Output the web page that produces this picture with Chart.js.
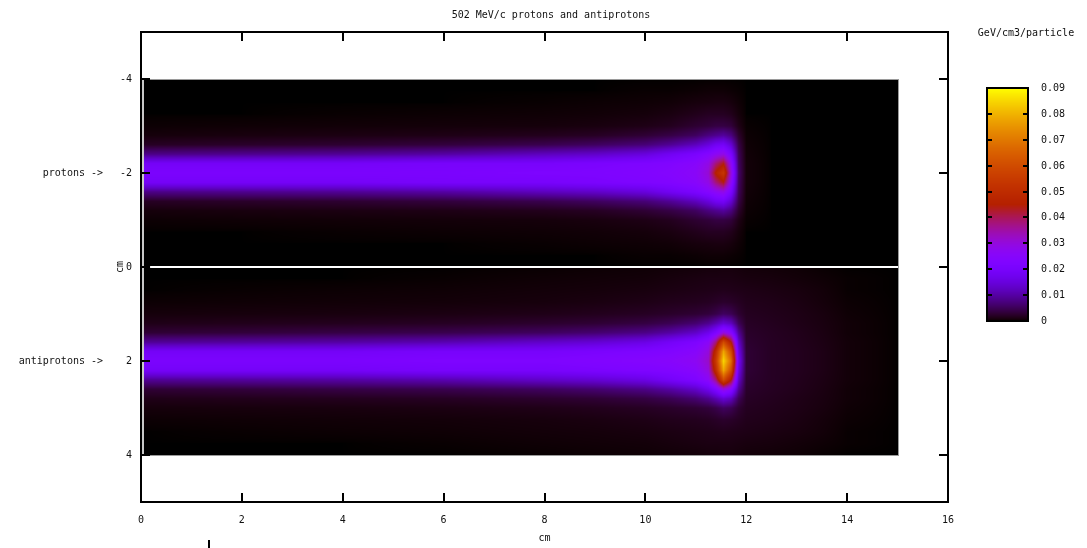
<!DOCTYPE html>
<html>
<head>
<meta charset="utf-8">
<script src="https://cdn.jsdelivr.net/npm/chart.js@4/dist/chart.umd.min.js"></script>
<style>
  body { margin: 0; background: #fff; }
  #wrap { width: 1087px; height: 548px; }
</style>
</head>
<body>
<div id="wrap"><canvas id="doseChart" width="1087" height="548"></canvas></div>
<script>
// depth nodes (cm) and lateral offsets from each beam axis (cm)
const xNodes = [0, 2, 4, 6, 8, 9, 10, 10.5, 11, 11.25, 11.4, 11.55, 11.7, 11.85, 12, 12.5, 13, 13.5, 14, 15];
const dyNodes = [0, 0.2, 0.4, 0.6, 0.8, 1.0, 1.25, 1.5, 1.75, 2.0];
const protonAxis = -2;
const antiprotonAxis = 2;

// GeV/cm3/particle, one row per lateral offset
const protonDose = [
  [.021, .021, .021, .021, .022, .022, .023, .024, .026, .031, .046, .054, .030, .006, .0005, 0, 0, 0, 0, 0],
  [.019, .019, .019, .020, .020, .021, .022, .023, .025, .029, .038, .044, .027, .0055, .0005, 0, 0, 0, 0, 0],
  [.008, .0085, .009, .010, .012, .013, .015, .018, .021, .024, .027, .029, .021, .005, .0004, 0, 0, 0, 0, 0],
  [.002, .0024, .0028, .0035, .0045, .0055, .007, .009, .012, .015, .018, .019, .014, .004, .0003, 0, 0, 0, 0, 0],
  [.0006, .0008, .001, .0012, .0016, .002, .003, .004, .0055, .0075, .0085, .0095, .0075, .0025, .0002, 0, 0, 0, 0, 0],
  [.0002, .0003, .0004, .0005, .0006, .0008, .0012, .0017, .0028, .0033, .0038, .0038, .0033, .0012, .0001, 0, 0, 0, 0, 0],
  [0, 0, .0001, .0002, .0003, .0004, .0006, .0009, .0015, .0019, .0019, .0019, .0015, .0006, 0, 0, 0, 0, 0, 0],
  [0, 0, 0, 0, .0001, .0002, .0003, .0004, .0007, .0008, .0009, .0009, .0007, .0003, 0, 0, 0, 0, 0, 0],
  [0, 0, 0, 0, 0, 0, .0001, .0001, .0002, .0003, .0003, .0003, .0002, .0001, 0, 0, 0, 0, 0, 0],
  [0, 0, 0, 0, 0, 0, 0, 0, 0, 0, 0, 0, 0, 0, 0, 0, 0, 0, 0, 0]
];
const antiprotonDose = [
  [.021, .021, .021, .022, .022, .023, .024, .025, .027, .032, .055, .085, .068, .018, .003, .002, .0017, .0012, .0005, 0],
  [.019, .019, .019, .020, .020, .021, .022, .023, .025, .030, .050, .078, .060, .016, .003, .002, .0017, .0012, .0005, 0],
  [.009, .0095, .010, .011, .013, .014, .016, .019, .022, .026, .038, .060, .045, .013, .0027, .002, .0016, .0011, .0005, 0],
  [.003, .0034, .004, .0045, .0055, .0065, .008, .010, .013, .017, .022, .030, .025, .009, .0024, .0019, .0015, .001, .0004, 0],
  [.0013, .0015, .0017, .002, .0026, .003, .0038, .0048, .0065, .0085, .011, .014, .012, .005, .0021, .0017, .0013, .0009, .0004, 0],
  [.0006, .0007, .0008, .001, .0013, .0016, .002, .0024, .0029, .0034, .0042, .0055, .0048, .0028, .0018, .0015, .0012, .0008, .0003, 0],
  [.0002, .0003, .0004, .0005, .0007, .0009, .0012, .0015, .0017, .0019, .0022, .0025, .0023, .0019, .0015, .0013, .001, .0006, .0002, 0],
  [0, .0001, .0002, .0003, .0005, .0006, .0008, .001, .0012, .0013, .0014, .0015, .0014, .0013, .0012, .001, .0008, .0005, .0001, 0],
  [0, 0, 0, .0001, .0003, .0004, .0005, .0007, .0009, .001, .001, .001, .001, .0009, .0008, .0007, .0005, .0003, .0001, 0],
  [0, 0, 0, 0, .0001, .0002, .0003, .0004, .0005, .0006, .0006, .0007, .0007, .0006, .0005, .0004, .0003, .0001, 0, 0]
];

const xTicks = [0, 2, 4, 6, 8, 10, 12, 14, 16];
const yTicks = [-4, -2, 0, 2, 4];
const cbTicks = [0, 0.01, 0.02, 0.03, 0.04, 0.05, 0.06, 0.07, 0.08, 0.09];
const cbMax = 0.09;
const FONT = '"DejaVu Sans Mono", "Liberation Mono", monospace';

// gnuplot default pm3d palette (rgbformulae 7,5,15)
function palette(v) {
  var t = Math.min(1, Math.max(0, v / cbMax));
  var r = Math.sqrt(t), g = t * t * t, b = Math.max(0, Math.sin(2 * Math.PI * t));
  return [Math.round(r * 255), Math.round(g * 255), Math.round(b * 255)];
}

function locate(nodes, v) {
  if (v <= nodes[0]) return [0, 0];
  var n = nodes.length - 1;
  if (v >= nodes[n]) return [n - 1, 1];
  for (var i = 0; i < n; i++) {
    if (v <= nodes[i + 1]) return [i, (v - nodes[i]) / (nodes[i + 1] - nodes[i])];
  }
  return [n - 1, 1];
}

function sample(grid, x, dy) {
  var a = locate(xNodes, x), b = locate(dyNodes, dy);
  var i = a[0], fx = a[1], j = b[0], fy = b[1];
  var v00 = grid[j][i], v01 = grid[j][i + 1], v10 = grid[j + 1][i], v11 = grid[j + 1][i + 1];
  return (v00 * (1 - fx) + v01 * fx) * (1 - fy) + (v10 * (1 - fx) + v11 * fx) * fy;
}

// grid nodes as chart points (the heatmap plugin paints the field between them)
function nodePoints(grid, axis) {
  var pts = [];
  dyNodes.forEach(function (d, j) {
    xNodes.forEach(function (x, i) {
      pts.push({ x: x, y: axis + d, v: grid[j][i] });
      if (d > 0) pts.push({ x: x, y: axis - d, v: grid[j][i] });
    });
  });
  return pts;
}

const heatmapPlugin = {
  id: 'heatmap',
  beforeDatasetsDraw: function (chart) {
    var ctx = chart.ctx, xs = chart.scales.x, ys = chart.scales.y;
    var left = Math.round(xs.getPixelForValue(0)), right = Math.round(xs.getPixelForValue(15));
    var top = Math.round(ys.getPixelForValue(-4)), bottom = Math.round(ys.getPixelForValue(4));
    var w = right - left, h = bottom - top;
    var off = document.createElement('canvas');
    off.width = w; off.height = h;
    var octx = off.getContext('2d');
    var img = octx.createImageData(w, h);
    for (var py = 0; py < h; py++) {
      var y = ys.getValueForPixel(top + py + 0.5);
      var grid = y < 0 ? protonDose : antiprotonDose;
      var dy = Math.abs(y - (y < 0 ? protonAxis : antiprotonAxis));
      for (var px = 0; px < w; px++) {
        var x = xs.getValueForPixel(left + px + 0.5);
        var c = palette(sample(grid, x, dy));
        var k = (py * w + px) * 4;
        img.data[k] = c[0]; img.data[k + 1] = c[1]; img.data[k + 2] = c[2]; img.data[k + 3] = 255;
      }
    }
    octx.putImageData(img, 0, 0);
    ctx.save();
    ctx.drawImage(off, left, top);
    ctx.strokeStyle = '#9a9a9a';
    ctx.lineWidth = 1;
    ctx.strokeRect(left + 0.5, top + 0.5, w, h);
    // light edge at the entrance face
    ctx.strokeStyle = '#c8c8c8';
    ctx.lineWidth = 2;
    ctx.beginPath();
    ctx.moveTo(left + 2, top); ctx.lineTo(left + 2, bottom);
    ctx.stroke();
    // white separator between the two runs
    var y0 = Math.round(ys.getPixelForValue(0));
    ctx.strokeStyle = '#ffffff';
    ctx.lineWidth = 2;
    ctx.beginPath();
    ctx.moveTo(xs.getPixelForValue(0.18), y0); ctx.lineTo(right, y0);
    ctx.stroke();
    ctx.restore();
  },
  afterDraw: function (chart) {
    var ctx = chart.ctx, a = chart.chartArea, xs = chart.scales.x, ys = chart.scales.y;
    ctx.save();
    ctx.strokeStyle = '#000';
    ctx.lineWidth = 2;
    ctx.strokeRect(a.left, a.top, a.right - a.left, a.bottom - a.top);
    ctx.lineWidth = 2;
    ctx.beginPath();
    xTicks.forEach(function (v) {
      var px = Math.round(xs.getPixelForValue(v));
      ctx.moveTo(px, a.bottom); ctx.lineTo(px, a.bottom - 9);
      ctx.moveTo(px, a.top); ctx.lineTo(px, a.top + 9);
    });
    yTicks.forEach(function (v) {
      var py = Math.round(ys.getPixelForValue(v));
      ctx.moveTo(a.left, py); ctx.lineTo(a.left + 9, py);
      ctx.moveTo(a.right, py); ctx.lineTo(a.right - 9, py);
    });
    ctx.stroke();

    ctx.fillStyle = '#111';
    ctx.font = '10px ' + FONT;
    ctx.textAlign = 'center';
    ctx.textBaseline = 'middle';
    ctx.fillText('502 MeV/c protons and antiprotons', 551, 15);
    ctx.fillText('cm', (a.left + a.right) / 2, 538);
    ctx.fillText('GeV/cm3/particle', 1026, 33);
    ctx.textAlign = 'right';
    ctx.fillText('protons ->', 103, ys.getPixelForValue(-2));
    ctx.fillText('antiprotons ->', 103, ys.getPixelForValue(2));
    ctx.save();
    ctx.translate(120, ys.getPixelForValue(0));
    ctx.rotate(-Math.PI / 2);
    ctx.textAlign = 'center';
    ctx.fillText('cm', 0, 0);
    ctx.restore();

    // colour box
    var cbL = 987, cbR = 1028, cbT = 88, cbB = 321;
    for (var py = cbT; py < cbB; py++) {
      var c = palette(cbMax * (cbB - py - 0.5) / (cbB - cbT));
      ctx.fillStyle = 'rgb(' + c[0] + ',' + c[1] + ',' + c[2] + ')';
      ctx.fillRect(cbL, py, cbR - cbL, 1);
    }
    ctx.strokeStyle = '#000';
    ctx.lineWidth = 2;
    ctx.strokeRect(cbL, cbT, cbR - cbL, cbB - cbT);
    ctx.beginPath();
    ctx.fillStyle = '#111';
    ctx.textAlign = 'left';
    cbTicks.forEach(function (v) {
      var py = Math.round(cbB - (cbB - cbT) * v / cbMax);
      if (v > 0 && v < cbMax) {
        ctx.moveTo(cbL, py); ctx.lineTo(cbL + 5, py);
        ctx.moveTo(cbR, py); ctx.lineTo(cbR - 5, py);
      }
      ctx.fillText(v === 0 ? '0' : v.toFixed(2), 1041, py);
    });
    ctx.stroke();

    // stray mark under the axis
    ctx.fillStyle = '#000';
    ctx.fillRect(208, 540, 2, 8);
    ctx.restore();
  }
};

const ctx = document.getElementById('doseChart').getContext('2d');
const doseChart = new Chart(ctx, {
  type: 'scatter',
  data: {
    datasets: [
      { label: 'protons', data: nodePoints(protonDose, protonAxis), pointRadius: 0 },
      { label: 'antiprotons', data: nodePoints(antiprotonDose, antiprotonAxis), pointRadius: 0 }
    ]
  },
  options: {
    responsive: false,
    animation: false,
    events: [],
    layout: { padding: { top: 32, right: 139, left: 0, bottom: 0 } },
    plugins: { legend: { display: false }, tooltip: { enabled: false } },
    scales: {
      x: {
        type: 'linear', min: 0, max: 16,
        afterBuildTicks: function (s) { s.ticks = xTicks.map(function (v) { return { value: v }; }); },
        afterFit: function (s) { s.height = 46; },
        grid: { display: false, drawTicks: false },
        border: { display: false },
        ticks: { padding: 12, color: '#111', font: { family: FONT, size: 10 }, maxRotation: 0 }
      },
      y: {
        type: 'linear', min: -5, max: 5, reverse: true,
        afterBuildTicks: function (s) { s.ticks = yTicks.map(function (v) { return { value: v }; }); },
        afterFit: function (s) { s.width = 141; },
        grid: { display: false, drawTicks: false },
        border: { display: false },
        ticks: { padding: 9, color: '#111', font: { family: FONT, size: 10 } }
      }
    }
  },
  plugins: [heatmapPlugin]
});
</script>
</body>
</html>
